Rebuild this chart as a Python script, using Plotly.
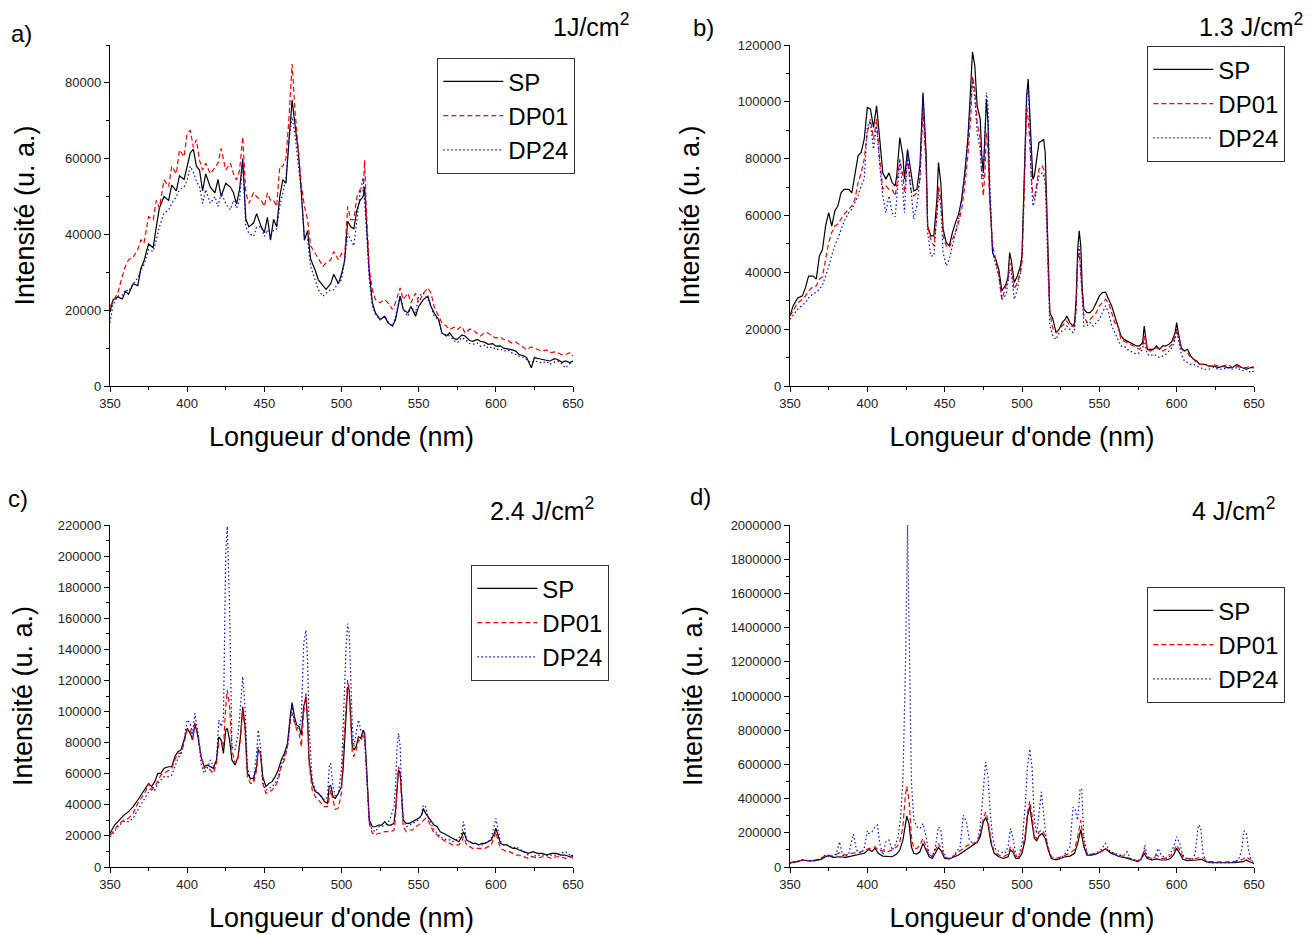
import plotly.graph_objects as go

K = 1000  # values below are written in thousands of counts

# ---------------- panel a) 1 J/cm2 ----------------
A_X = [350, 352, 355, 358, 360, 362, 365, 368, 370, 372,
       375, 378, 380, 382, 385, 388, 390, 393, 395, 398,
       400, 402, 404, 406, 408, 410, 412, 415, 418, 420,
       422, 425, 428, 430, 432, 434, 436, 438, 440, 443,
       445, 448, 450, 452, 454, 456, 458, 460, 462, 464,
       466, 468, 470, 472, 474, 476, 478, 480, 483, 485,
       488, 490, 493, 495, 498, 500, 502, 504, 506, 508,
       510, 512, 514, 515, 516, 518, 520, 522, 525, 528,
       530, 533, 535, 538, 540, 543, 545, 548, 550, 553,
       556, 558, 560, 563, 565, 568, 570, 573, 575, 578,
       580, 583, 585, 588, 590, 593, 595, 598, 600, 603,
       605, 608, 610, 613, 615, 618, 620, 623, 625, 628,
       630, 633, 635, 638, 640, 643, 645, 648, 650]
A_SP = [19.5, 22.8, 23.5, 23, 25, 24.2, 27, 26.5, 31, 33,
        37.5, 36.5, 42, 47, 50, 49, 53, 51.5, 55.5, 54.5,
        58, 61.5, 62.5, 58, 57, 51.5, 56, 52.5, 51, 54.5,
        50, 53.5, 52.5, 51, 48, 52, 60, 44, 42, 43,
        45.5, 42, 40.5, 44.5, 38.5, 44, 42, 50, 54.5, 53.5,
        65, 75.5, 68.5, 62, 51, 38.5, 41, 33.5, 30.5, 28,
        26.5, 25.5, 27, 29.5, 27, 29.5, 33, 43.5, 42, 41.5,
        46.5, 49, 50, 52.5, 44.5, 30, 22, 19.3, 17.5, 18.4,
        16.7, 15.8, 17.5, 23.7, 20.2, 19.3, 21, 18.4, 21, 22.8,
        23.7, 21, 19.3, 17.5, 14, 13.2, 14, 12.5, 12.3, 13.5,
        13.2, 12, 11.8, 12.3, 11.8, 11.5, 11, 11.2, 10.5, 10.6,
        10, 9.8, 9.6, 9.2, 8.3, 8, 7.5, 4.8, 7.5, 7.2,
        7, 6.8, 6.6, 7.2, 7, 6.2, 6.6, 6.2, 6.6]
A_DP01 = [21, 22.5, 24.5, 29, 31.6, 33.3, 34, 36, 38.6, 37.7,
          44.7, 43.9, 49, 47, 54.4, 52.6, 58, 56, 62.3, 60.5,
          66.7, 67.5, 63, 65, 59.6, 57, 58.8, 56, 57.9, 58.8,
          62.7, 57, 58.8, 56, 54.4, 57, 65.8, 51, 48.2, 51,
          50, 49, 47.4, 51, 49, 49, 47.4, 58, 58, 60,
          71, 85, 72, 62, 53, 47.4, 44, 37, 35, 33.3,
          31.6, 32.5, 33.3, 35.5, 33.3, 35, 34, 47.4, 43.9, 43.9,
          50, 51.8, 51, 59.6, 47.4, 31, 25.4, 22.8, 22, 22.8,
          22, 20.2, 22, 25.9, 22.8, 24.5, 22, 24.5, 22, 24.5,
          25.9, 24.5, 21, 18.4, 16.7, 15.8, 14.9, 15.5, 14.9, 15.8,
          14, 15, 14.9, 13.8, 13.2, 14.2, 14, 13, 12.7, 12.9,
          12.3, 12, 11.4, 11.6, 11, 10.2, 9.6, 10.3, 10, 9.4,
          9.2, 9.5, 8.8, 9, 8.8, 8.2, 8.3, 8.8, 7.9]
A_DP24 = [16.7, 21.5, 23.7, 24, 25.4, 25, 27, 28.5, 30.7, 32,
          36, 35.5, 38.6, 42, 45.6, 46.5, 48.2, 50, 51.8, 52.5,
          54.4, 58, 56.5, 54, 52.6, 48.2, 51.8, 48.2, 50, 47.4,
          51, 48.2, 46.5, 49, 47, 49, 59.6, 42, 40.3, 39.5,
          42, 42, 39.5, 41.2, 39.5, 41.2, 41.5, 47.4, 51, 55,
          65, 71, 65.8, 58, 51, 38.6, 38.6, 31.6, 28, 25.4,
          23.7, 24.5, 25.4, 25.4, 27.2, 28, 33.3, 40.3, 38.6, 37,
          44, 51, 55, 49, 42, 28, 21, 19, 17.5, 18.4,
          17.1, 15.8, 18.4, 23.7, 20.2, 18.4, 21, 19.3, 23.7, 24.5,
          22.8, 21, 18.4, 17.5, 14, 13.5, 13.2, 12, 11.4, 12.8,
          12.3, 11.2, 11, 11.3, 10.5, 10.8, 10, 10.3, 9.6, 9.8,
          9.2, 9.5, 8.8, 8.3, 7.9, 7.6, 7, 6.1, 6.6, 6.3,
          6.1, 6.5, 5.7, 6.3, 6.6, 5.8, 4.8, 5.9, 6.1]

# ---------------- panel b) 1.3 J/cm2 ----------------
B_X = [350, 352, 355, 358, 360, 362, 365, 367, 369, 371,
       373, 375, 377, 379, 381, 383, 385, 388, 390, 392,
       394, 396, 398, 400, 402, 404, 406, 408, 410, 412,
       414, 416, 418, 419, 421, 423, 424, 426, 428, 430,
       432, 434, 436, 438, 439, 441, 443, 445, 446, 447.5,
       449, 451, 453, 455, 457, 459, 461, 463, 465, 467,
       468, 469.5, 471, 473, 474, 475, 476, 477, 478, 479,
       481, 483, 485, 487, 489, 490, 491, 492, 493, 495,
       497, 499, 500, 501, 502, 503, 504, 505, 506, 507,
       508, 510, 511, 513, 514, 515, 516, 517, 518, 520,
       522, 524, 526, 528, 529, 531, 533, 534, 535, 536,
       537, 538, 539, 540, 542, 544, 546, 548, 550, 552,
       554, 556, 558, 560, 562, 564, 566, 568, 570, 572,
       574, 576, 578, 579, 580, 581, 583, 585, 587, 589,
       591, 593, 595, 597, 599, 600, 601, 603, 605, 607,
       609, 611, 613, 615, 618, 621, 624, 627, 630, 633,
       636, 639, 642, 645, 648, 650]
B_SP = [24.6, 28.2, 31, 31.7, 34.6, 38.7, 38.7, 37.6, 45.8, 48,
        56.3, 61, 56.3, 61.6, 63.4, 68, 69.2, 69.2, 68, 74,
        81, 82.2, 86.9, 98, 97.4, 91, 98.6, 86.9, 75, 72.8,
        75, 71.6, 70.4, 74, 87.4, 81, 72.8, 83.3, 75, 68.7,
        69.2, 77.5, 103.3, 82.2, 56.3, 52.8, 52.8, 65.7, 78.6, 71.6,
        55.2, 50.5, 49.3, 54, 57.5, 60.4, 65.7, 75, 86.9, 104.5,
        117.6, 112.7, 98.6, 93.9, 81, 75, 86.9, 101, 92.7, 69.2,
        46.9, 44.6, 41, 33.5, 35.2, 36.4, 38.7, 46.9, 44.6, 36.4,
        38.7, 42.3, 46, 63.4, 86.9, 102, 108, 96.2, 81, 72.8,
        74, 83.3, 85.7, 86.3, 86.9, 82.2, 63.4, 39.9, 25.8, 23.5,
        18.8, 20, 22.3, 23.5, 24.6, 22.3, 21.1, 22.3, 30.5, 48,
        54.6, 49.3, 34, 27, 25.8, 25.8, 27, 29.3, 31.7, 32.9,
        33, 30.5, 28.2, 24.6, 21.1, 17.6, 16.4, 15.8, 15.3, 14.7,
        14.1, 14.1, 15.3, 21.1, 17.6, 12.9, 12.9, 12.9, 14.1, 12.9,
        14.1, 14.1, 14.7, 15.8, 18.8, 22.3, 18.8, 13.5, 12.3, 12.9,
        10.6, 9.4, 8.8, 7.6, 7.6, 7, 7, 6.5, 7, 6.5,
        6.5, 7.6, 6.5, 5.9, 6.5, 6.5]
B_DP01 = [24.6, 26.5, 29.3, 30.5, 31.7, 33.5, 35, 35.2, 37.6, 38.5,
          44, 50.5, 54, 56.3, 57, 59, 60.5, 62.2, 63.4, 65.7,
          71.6, 75, 79.8, 89.2, 93.9, 86.9, 93.9, 79.8, 69.2, 70.4,
          69.2, 69.2, 66.9, 70.4, 79.8, 74, 68, 80.5, 69.2, 66.9,
          68, 72.8, 97.4, 77.5, 56.3, 51.6, 49.3, 61, 70.4, 65.7,
          52.8, 49.3, 48.7, 51.6, 54, 57.5, 62.2, 70.4, 81, 96.2,
          109, 104.5, 92.7, 86.9, 72.8, 66.9, 75, 89.2, 83.3, 65.7,
          49.3, 44.6, 38.7, 30.5, 34, 35.2, 37.6, 43.4, 42.3, 34,
          36.4, 40, 43.4, 59.9, 82.2, 98.6, 93.9, 86.9, 74, 66.9,
          65.7, 74, 76.3, 77.5, 76.3, 74, 61, 39.9, 25.8, 20,
          18.8, 20, 21.1, 22.3, 22.9, 21.1, 21.1, 21.1, 27, 44.6,
          46.9, 39.9, 30.5, 24.6, 22.3, 23.5, 24.6, 25.8, 28.2, 29.3,
          30.5, 29.3, 25.8, 22.3, 21.1, 16.4, 15.8, 15.3, 14.7, 14.1,
          13.5, 12.9, 14.1, 17.6, 15.8, 12.9, 12.3, 12.9, 13.5, 12.9,
          12.3, 12.9, 13.5, 14.7, 17.6, 20, 17.6, 12.9, 12.3, 11.7,
          10, 9.4, 8.2, 7.6, 7.6, 7, 7.6, 7, 7, 7.6,
          6.5, 7, 6.5, 6.5, 7, 6.5]
B_DP24 = [23.5, 25, 27, 28.5, 29.3, 31, 32.5, 33, 34, 35.5,
          38.5, 42, 46, 49.5, 52, 55, 58, 61, 62.2, 64.6,
          66.9, 70.4, 72.8, 91.5, 92.7, 83.3, 91.5, 77.5, 66.9, 61,
          66.9, 61, 59.5, 65.7, 79.8, 68, 61, 82.2, 69.2, 58.7,
          63.4, 72.8, 102, 77.5, 54, 45.8, 45.8, 61, 68, 63.4,
          46.9, 42.3, 44.6, 49.3, 54, 58.7, 65.7, 74, 86.9, 101,
          108, 101, 89.2, 83.3, 75, 72.8, 92.7, 103.3, 98.6, 75,
          46.9, 42.3, 38.7, 30.5, 31.7, 32.9, 36.4, 41, 40, 30.5,
          34, 40, 45.8, 65.7, 86.9, 102, 104.5, 93.9, 72.8, 63.4,
          64.6, 71.6, 74, 75, 74, 71.6, 56.3, 37.6, 21.1, 17.6,
          16.4, 18.8, 19.4, 20, 21.1, 20, 18.8, 20, 28.2, 45.8,
          49.3, 39.9, 28.2, 21.1, 21.1, 22.3, 21.1, 22.3, 23.5, 25.8,
          28.2, 25.8, 21.1, 18.8, 16.4, 14.1, 14.1, 12.9, 12.3, 11.7,
          11.2, 11.7, 12.9, 16.4, 14.1, 11.2, 10.6, 11.2, 10.6, 10,
          10.6, 11.2, 12.3, 13.5, 16.4, 20, 16.4, 11.2, 8.8, 8.2,
          7.6, 7.6, 7, 6.5, 5.9, 5.9, 6.5, 5.9, 5.9, 6.5,
          5.9, 6.5, 5.3, 5.9, 4.7, 5.3]

# ---------------- panel c) 2.4 J/cm2 ----------------
C_X = [350, 353, 356, 359, 362, 365, 368, 371, 373, 375,
       377, 379, 381, 383, 385, 388, 390, 392, 394, 396,
       398, 400, 402, 403.5, 405, 407, 409, 411, 413, 415,
       417, 419, 420.5, 422, 423.5, 425, 426, 427.5, 429, 431,
       433, 434.5, 436, 437.5, 439, 441, 443, 445, 446, 447.5,
       449, 451, 453, 455, 457, 459, 461, 463, 465, 467,
       468, 469.5, 471, 472.5, 474, 475.5, 477, 478, 479, 481,
       483, 485, 487, 489, 491, 492, 493, 494.5, 496, 498,
       500, 501, 502, 503, 504, 505, 506, 507, 508, 509.5,
       511, 512.5, 514, 515, 516, 517, 518, 520, 522, 524,
       526, 528, 530, 532, 534, 535, 536, 537, 538, 539,
       540, 542, 544, 546, 548, 550, 552, 553, 554.5, 556,
       558, 560, 562, 564, 566, 568, 570, 572, 574, 576,
       578, 579, 580, 581, 583, 585, 587, 589, 591, 593,
       595, 597, 599, 600, 601, 603, 605, 607, 609, 611,
       613, 615, 618, 621, 624, 627, 630, 633, 636, 639,
       642, 645, 648, 650]
C_SP = [21.7, 27, 30.2, 33.4, 35.6, 38.8, 43.1, 47.4, 50.6, 53.8,
        51.7, 54.9, 60.2, 60.2, 63.5, 64.5, 64.5, 71, 74.2, 75.3,
        81.7, 89.2, 86, 81.7, 92.4, 83.8, 71, 64.5, 65.6, 64.5,
        63.5, 68.8, 83.8, 81.7, 73.1, 88.1, 89.2, 81.7, 68.8, 65.6,
        71, 83.8, 103.1, 90.3, 60.2, 57, 57, 64.5, 75.3, 73.1,
        58.1, 51.7, 53.8, 54.9, 58.1, 62.4, 68.8, 73.1, 79.5, 98.8,
        105.7, 96.7, 91.3, 90.3, 84.9, 103.1, 109.6, 94.6, 68.8, 53.8,
        48.5, 47.4, 45.2, 42, 41, 51.7, 52.7, 45.2, 44.2, 47.4,
        51.7, 62.4, 83.8, 103.1, 116, 113.9, 96.7, 77.4, 75.3, 77.4,
        83.8, 82.8, 88.1, 86, 68.8, 47.4, 30.2, 25.9, 25.9, 27,
        27, 29.2, 27, 27, 28.1, 36.7, 51.7, 62.4, 60.2, 43.1,
        30.2, 28.1, 28.1, 29.2, 30.2, 31.3, 33.4, 37.7, 34.5, 32.4,
        29.2, 27, 25.9, 22.7, 21.7, 20.6, 19.5, 18.4, 17.4, 16.3,
        19.5, 22.7, 20.6, 17.4, 16.3, 15.2, 15.2, 14.2, 15.2, 15.2,
        16.3, 17.4, 21.7, 24.9, 21.7, 15.2, 14.2, 14.2, 13.1, 12,
        12, 10.9, 9.9, 8.8, 9.9, 8.8, 8.8, 7.7, 8.8, 8.8,
        7.7, 7.7, 6.6, 7.7]
C_DP01 = [20.6, 23.8, 28.1, 30.2, 31.3, 34.5, 41, 45.2, 48.5, 53.8,
          49.5, 51.7, 56, 59.2, 60.2, 62.4, 63.5, 68.8, 73.1, 73.1,
          79.5, 88.1, 89.2, 81.7, 92.4, 86, 71, 63.5, 64.5, 62.4,
          60.2, 66.7, 79.5, 81.7, 77.4, 103.1, 113.9, 103.1, 75.3, 66.7,
          69.9, 81.7, 101, 88.1, 58.1, 53.8, 53.8, 62.4, 77.4, 73.1,
          53.8, 47.4, 48.5, 49.5, 51.7, 56, 64.5, 68.8, 77.4, 94.6,
          98.8, 92.4, 88.1, 86, 77.4, 98.8, 111.7, 94.6, 66.7, 49.5,
          45.2, 43.1, 41, 38.8, 38.8, 45.2, 49.5, 43.1, 37, 38,
          48, 73.1, 90.3, 107.4, 120.3, 113.9, 94.6, 73.1, 71, 75.3,
          81.7, 80.6, 86, 83.8, 66.7, 45.2, 28.1, 21.7, 20.6, 21.7,
          21.7, 22.7, 22.7, 22.7, 23.8, 32.4, 51.7, 64.5, 60.2, 38.8,
          25.9, 22.7, 23.8, 23.8, 25.9, 27, 29.2, 30.2, 31.3, 30.2,
          25.9, 21.7, 20.6, 18.4, 17.4, 16.3, 15.2, 14.2, 14.2, 14.2,
          16.3, 19.5, 17.4, 14.2, 13.1, 12, 12, 12, 12, 12,
          13.1, 14.2, 19.5, 22.7, 18.4, 12, 10.9, 9.9, 9.9, 8.8,
          7.7, 7.7, 6.6, 5.6, 6.6, 5.6, 6.6, 6.6, 5.6, 6.6,
          6.6, 5.6, 6.6, 5.6]
C_DP24 = [19.5, 22.7, 27, 29.2, 29.2, 31.3, 36.7, 42, 45.2, 48.5,
          51.7, 49.5, 53.8, 56, 58.1, 58.1, 59.2, 64.5, 69.9, 73.1,
          81.7, 94.6, 92.4, 86, 98.8, 86, 66.7, 60.2, 63.5, 68.8,
          64.5, 68.8, 94.6, 90.3, 94.6, 201.8, 219, 167.5, 77.4, 75.3,
          86, 103.1, 122.4, 103.1, 64.5, 56, 56, 73.1, 88.1, 77.4,
          53.8, 49.5, 50.6, 51.7, 53.8, 58.1, 65.6, 71, 77.4, 96.7,
          103.1, 92.4, 90.3, 88.1, 96.7, 143.9, 152.4, 133.1, 90.3, 56,
          49.5, 47.4, 45.2, 43.1, 45.2, 64.5, 66.7, 51.7, 45.2, 47.4,
          62.4, 90.3, 116, 141.7, 156.5, 150.3, 122.4, 90.3, 77.4, 86,
          94.6, 88.1, 86, 81.7, 64.5, 41, 28.1, 23.8, 22.7, 25.9,
          25.9, 27, 28.1, 32.4, 38.8, 51.7, 77.4, 86, 77.4, 47.4,
          30.2, 25.9, 27, 28.1, 29.2, 30.2, 34.5, 39.9, 38.8, 32.4,
          28.1, 23.8, 21.7, 19.5, 18.4, 17.4, 17.4, 16.3, 17.4, 18.4,
          21.7, 29.2, 23.8, 17.4, 16.3, 15.2, 15.2, 14.2, 14.2, 15.2,
          16.3, 18.4, 25.9, 31.3, 25.9, 16.3, 14.2, 14.2, 13.1, 12,
          13.1, 12, 9.9, 7.7, 6.6, 7.7, 7.7, 7.7, 7.7, 7.7,
          8.8, 9.9, 7.7, 6.6]

# ---------------- panel d) 4 J/cm2 ----------------
D_X = [350, 355, 358, 362, 366, 370, 373, 375, 378, 382,
       386, 390, 394, 398, 401, 403, 405, 407, 410, 413,
       416, 419, 421, 423, 424.5, 425.5, 427, 428.5, 430, 432,
       434, 436, 438, 440, 442, 444, 446, 448, 450, 453,
       456, 459, 462, 465, 468, 471, 473, 475, 476.5, 478,
       480, 482, 485, 488, 491, 492.5, 494, 496, 498, 500,
       502, 503.5, 505, 506.5, 508, 509.5, 511, 513, 515, 517,
       519, 522, 525, 528, 531, 534, 536, 538, 540, 542,
       545, 548, 551, 554, 557, 560, 563, 566, 569, 572,
       575, 577, 579, 581, 584, 587, 590, 593, 596, 598,
       600, 602, 604, 607, 610, 613, 616, 619, 622, 625,
       628, 631, 634, 637, 640, 643, 645, 647, 650]
D_SP = [25, 31, 41, 35, 37, 45, 60, 68, 56, 60,
        56, 64, 70, 80, 103, 91, 110, 80, 64, 64,
        60, 76, 99, 157, 254, 297, 254, 118, 80, 76,
        89, 138, 99, 60, 50, 80, 115, 89, 50, 47,
        60, 70, 89, 109, 126, 145, 177, 264, 289, 254,
        138, 80, 60, 50, 60, 99, 89, 50, 50, 80,
        157, 293, 355, 274, 167, 153, 181, 196, 167, 99,
        50, 41, 50, 60, 64, 80, 138, 219, 118, 70,
        70, 76, 89, 107, 84, 70, 60, 56, 47, 37,
        31, 47, 80, 50, 41, 47, 41, 41, 50, 70,
        109, 80, 45, 37, 37, 41, 45, 31, 25, 25,
        25, 23, 25, 25, 29, 31, 41, 31, 21]
D_DP01 = [25, 35, 41, 37, 41, 50, 70, 70, 64, 84,
          70, 80, 84, 95, 109, 109, 118, 99, 95, 89,
          99, 118, 148, 235, 410, 472, 390, 177, 109, 109,
          128, 167, 118, 70, 64, 99, 138, 99, 60, 50,
          64, 89, 109, 128, 138, 145, 196, 284, 322, 274,
          157, 89, 70, 60, 76, 118, 109, 60, 60, 99,
          186, 313, 386, 303, 177, 167, 206, 216, 186, 109,
          60, 50, 60, 70, 80, 103, 177, 274, 138, 80,
          76, 80, 89, 109, 89, 76, 70, 60, 54, 41,
          37, 50, 99, 60, 50, 70, 50, 50, 64, 89,
          128, 99, 60, 50, 47, 50, 60, 37, 31, 31,
          29, 29, 31, 31, 37, 47, 60, 47, 25]
D24_X = [350, 355, 358, 362, 366, 370, 373, 375, 378, 380,
         382, 384, 386, 388, 391, 393, 396, 398, 400, 401,
         403, 405, 406.5, 408, 410, 412, 414, 416, 418, 420,
         421.5, 423, 424.7, 426, 427.5, 428.5, 430, 432, 434, 436,
         438, 440, 442, 444, 446, 447.5, 449, 451, 454, 457,
         460, 462, 464, 466, 468, 471, 473, 475, 476.5, 478,
         479.5, 481, 483, 486, 489, 491, 492.5, 494, 496, 498,
         500, 502, 503.5, 505, 506.5, 508, 509.5, 511, 512.5, 514,
         515.5, 517, 519, 522, 525, 528, 531, 533, 534.5, 536,
         537.5, 538.5, 540, 542, 545, 548, 551, 554, 557, 560,
         563, 566, 568, 570, 573, 576, 578, 579.5, 581, 584,
         586, 588, 590, 593, 596, 598, 600, 602, 604, 607,
         610, 612, 614, 615.5, 617, 619, 622, 625, 628, 631,
         634, 637, 640, 642, 643.5, 645, 646.5, 648, 650]
D_DP24 = [21, 31, 41, 37, 37, 50, 70, 60, 60, 80,
          148, 70, 60, 80, 192, 99, 80, 109, 212, 196,
          206, 235, 245, 138, 70, 148, 157, 99, 128, 177,
          293, 507, 1200, 2000, 1150, 500, 280, 235, 225, 254,
          177, 70, 60, 118, 235, 216, 99, 50, 50, 80,
          118, 303, 264, 157, 138, 138, 235, 468, 614, 526,
          313, 177, 99, 89, 80, 118, 225, 177, 70, 70,
          138, 351, 585, 690, 585, 274, 196, 313, 439, 313,
          177, 99, 50, 45, 50, 80, 118, 351, 332, 274,
          449, 460, 177, 80, 70, 80, 99, 138, 89, 80,
          70, 70, 89, 50, 41, 31, 60, 128, 60, 41,
          60, 109, 70, 50, 80, 118, 177, 138, 70, 41,
          41, 80, 245, 235, 80, 31, 25, 25, 25, 25,
          25, 31, 41, 99, 212, 196, 99, 41, 25]

SERIES = ["SP", "DP01", "DP24"]
COLORS = {"SP": "#000000", "DP01": "#ff0000", "DP24": "#0000ff"}
DASHES = {"SP": "solid", "DP01": "5px,3px", "DP24": "1.5px,2.5px"}
PANEL_TAGS = ["a)", "b)", "c)", "d)"]
FLUENCES = ["1J/cm<sup>2</sup>", "1.3 J/cm<sup>2</sup>",
            "2.4 J/cm<sup>2</sup>", "4 J/cm<sup>2</sup>"]
Y_MAX = [90000, 120000, 220000, 2000000]
Y_DTICK = [20000, 20000, 20000, 200000]

panels = [
    [(A_X, A_SP), (A_X, A_DP01), (A_X, A_DP24)],
    [(B_X, B_SP), (B_X, B_DP01), (B_X, B_DP24)],
    [(C_X, C_SP), (C_X, C_DP01), (C_X, C_DP24)],
    [(D_X, D_SP), (D_X, D_DP01), (D24_X, D_DP24)],
]

# The page body has an 8 px margin, so the figure is drawn 8 px smaller
# and every target pixel position is shifted by that offset.
OFF = 8
W, H = 1313 - OFF, 935 - OFF
FONT = "Liberation Sans, Arial, Helvetica, sans-serif"


def px(x):
    return (x - OFF) / W


def py(y):
    return 1 - (y - OFF) / H


# plot-area boxes in page pixels (left, right, top, bottom)
boxes = [(110, 573, 45, 386), (790, 1254, 45, 386),
         (110, 573, 525, 867), (790, 1254, 525, 867)]
legend_pos = [(437, 58), (1147, 46), (471, 565), (1147, 587)]
tag_pos = [(22, 33), (703, 27), (18, 498), (700, 497)]
flu_pos = [(631, 25), (1305, 25), (596, 509), (1277, 509)]
ytitle_standoff = [22, 30, 19, 20]

fig = go.Figure()
layout = dict(
    width=W, height=H, margin=dict(l=0, r=0, t=0, b=0),
    paper_bgcolor="white", plot_bgcolor="white",
    font=dict(family=FONT, color="black"),
    annotations=[],
)

for i, data in enumerate(panels):
    n = i + 1
    xa = "x" if n == 1 else f"x{n}"
    ya = "y" if n == 1 else f"y{n}"
    leg = "legend" if n == 1 else f"legend{n}"
    for name, (xs, vs) in zip(SERIES, data):
        fig.add_trace(go.Scatter(
            x=xs, y=[v * K for v in vs], mode="lines", name=name,
            line=dict(color=COLORS[name], width=1.2, dash=DASHES[name]),
            xaxis=xa, yaxis=ya, legend=leg, showlegend=True,
        ))
    l, r, t, b = boxes[i]
    axis_common = dict(
        showline=True, linecolor="black", linewidth=1.3, mirror=False,
        showgrid=False, zeroline=False, ticks="outside", ticklen=5,
        tickwidth=1, tickcolor="black", automargin=False,
        tickfont=dict(family=FONT, size=13, color="#222"),
    )
    layout["xaxis" if n == 1 else f"xaxis{n}"] = dict(
        axis_common, domain=[px(l), px(r)], range=[350, 650],
        anchor=ya, dtick=50, tick0=350,
        minor=dict(ticks="outside", ticklen=3, dtick=25, tickcolor="black"),
        title=dict(text="Longueur d'onde (nm)", standoff=17,
                   font=dict(family=FONT, size=27, color="black")),
    )
    layout["yaxis" if n == 1 else f"yaxis{n}"] = dict(
        axis_common, domain=[py(b), py(t)], range=[0, Y_MAX[i]],
        anchor=xa, dtick=Y_DTICK[i], tick0=0, tickformat="d",
        minor=dict(ticks="outside", ticklen=3, dtick=Y_DTICK[i] / 2,
                   tickcolor="black"),
        title=dict(text="Intensité (u. a.)", standoff=ytitle_standoff[i],
                   font=dict(family=FONT, size=27, color="black")),
    )
    lx, ly = legend_pos[i]
    layout[leg] = dict(
        x=px(lx), y=py(ly), xanchor="left", yanchor="top",
        bgcolor="white", bordercolor="#333", borderwidth=1.3,
        font=dict(family=FONT, size=24, color="black"),
        itemwidth=60, tracegroupgap=0,
    )
    tx, ty = tag_pos[i]
    layout["annotations"].append(dict(
        text=PANEL_TAGS[i], x=px(tx), y=py(ty), xref="paper", yref="paper",
        showarrow=False, xanchor="center", yanchor="middle",
        font=dict(family=FONT, size=24, color="black")))
    fx, fy = flu_pos[i]
    layout["annotations"].append(dict(
        text=FLUENCES[i], x=px(fx), y=py(fy), xref="paper", yref="paper",
        showarrow=False, xanchor="right", yanchor="middle",
        font=dict(family=FONT, size=25, color="black")))

fig.update_layout(**layout)
fig.write_html("out.html")
